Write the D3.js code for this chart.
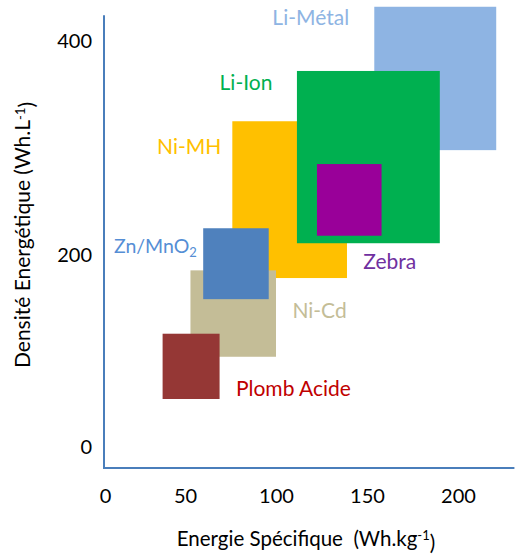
<!DOCTYPE html>
<html>
<head>
<meta charset="utf-8">
<script src="https://cdn.jsdelivr.net/npm/d3@7"></script>
<style>
  html, body { margin: 0; padding: 0; background: #fff; }
  svg { display: block; font-family: Lato, "Open Sans", sans-serif; }
</style>
</head>
<body>
<svg id="chart" width="515" height="554"></svg>
<script>
// ---- data (Energie spécifique Wh/kg, densité énergétique Wh/L) ----
const technologies = ["Li-Métal", "Ni-MH", "Li-Ion", "Zebra", "Ni-Cd", "Zn/MnO2", "Plomb Acide"];
const specMin  = [154, 76, 111.5, 122.5, 53, 60, 36];
const specMax  = [221, 139, 190, 158, 100, 96, 69];
const densMin  = [298, 176, 211, 218, 94, 154, 50];
const densMax  = [432, 325, 372, 285, 184, 225, 118];
// label anchors (data units)
const labelSpec = [98, 32.5, 69, 148, 109, 5.6, 78];
const labelDens = [421.5, 301, 361, 193, 142, 208, 60.5];

const xTicks = [0, 50, 100, 150, 200];
const yTicks = [0, 200, 400];
const xExtent = [0, 231];
const yExtent = [-22, 424];

// ---- styles ----
const fills  = ["#8EB4E3", "#FFC000", "#00B050", "#990099", "#C4BD97", "#4F81BD", "#953735"];
const labelColors = ["#8EB4E3", "#FFC000", "#00B050", "#7030A0", "#C4BD97", "#558ED5", "#C00000"];
const axisColor = "#4A7EBB";

const svg = d3.select("#chart");

// hand-drawn reference axes: piecewise linear scales follow its tick positions
const x = d3.scaleLinear().domain([0, 50, 200]).range([105, 185, 458]);
const y = d3.scaleLinear().domain([0, 200, 400]).range([447, 255, 41]);

const rows = technologies.map((name, i) => ({
  name, x0: specMin[i], x1: specMax[i], y0: densMin[i], y1: densMax[i],
  fill: fills[i], lc: labelColors[i], lx: labelSpec[i], ly: labelDens[i]
}));

// rectangles
svg.append("g").selectAll("rect").data(rows).join("rect")
  .attr("x", d => x(d.x0))
  .attr("y", d => y(d.y1))
  .attr("width", d => x(d.x1) - x(d.x0))
  .attr("height", d => y(d.y0) - y(d.y1))
  .attr("fill", d => d.fill);

// axes (labels only)
const xAxis = svg.append("g")
  .attr("transform", `translate(0,${y(yExtent[0])})`)
  .call(d3.axisBottom(x).tickValues(xTicks).tickSize(0).tickPadding(21).tickFormat(d3.format("d")));
const yAxis = svg.append("g")
  .attr("transform", `translate(${x(xExtent[0]) - 1},0)`)
  .call(d3.axisLeft(y).tickValues(yTicks).tickSize(0).tickPadding(12).tickFormat(d3.format("d")));
[xAxis, yAxis].forEach(g => {
  g.select(".domain").remove();
  g.selectAll("text").attr("fill", "#000").style("font-size", "20px").style("font-family", "Lato, sans-serif");
});

// axis lines
svg.append("line")
  .attr("x1", x(xExtent[0]) - 1).attr("x2", x(xExtent[0]) - 1)
  .attr("y1", y(yExtent[1])).attr("y2", y(yExtent[0]) + 1)
  .attr("stroke", axisColor).attr("stroke-width", 2);
svg.append("line")
  .attr("x1", x(xExtent[0]) - 2).attr("x2", x(xExtent[1]))
  .attr("y1", y(yExtent[0])).attr("y2", y(yExtent[0]))
  .attr("stroke", axisColor).attr("stroke-width", 2);

// labels
const lab = svg.append("g").selectAll("text").data(rows).join("text")
  .attr("x", d => x(d.lx))
  .attr("y", d => y(d.ly))
  .attr("dy", "0.35em")
  .attr("fill", d => d.lc)
  .style("font-size", d => d.name === "Zn/MnO2" ? "19.5px" : "21px");
lab.each(function(d) {
  const t = d3.select(this);
  if (d.name === "Zn/MnO2") {
    t.append("tspan").text("Zn/MnO");
    t.append("tspan").attr("dy", "0.3em").style("font-size", "13px").text("2");
  } else {
    t.text(d.name);
  }
});

// axis titles
const xt = svg.append("text")
  .attr("x", 306)
  .attr("y", 539).attr("dy", "0.35em")
  .attr("text-anchor", "middle").attr("fill", "#000")
  .style("font-size", "20.5px").style("white-space", "pre");
xt.append("tspan").text("Energie Spécifique  (Wh.kg");
xt.append("tspan").attr("dy", "-0.45em").style("font-size", "13px").text("-1");
xt.append("tspan").attr("dy", "0.45em").text(")");

const yt = svg.append("text")
  .attr("transform", `translate(23,235) rotate(-90)`)
  .attr("dy", "0.35em")
  .attr("text-anchor", "middle").attr("fill", "#000").style("font-size", "21px");
yt.append("tspan").text("Densité Energétique (Wh.L");
yt.append("tspan").attr("dy", "-0.45em").style("font-size", "13px").text("-1");
yt.append("tspan").attr("dy", "0.45em").text(")");
</script>
</body>
</html>
